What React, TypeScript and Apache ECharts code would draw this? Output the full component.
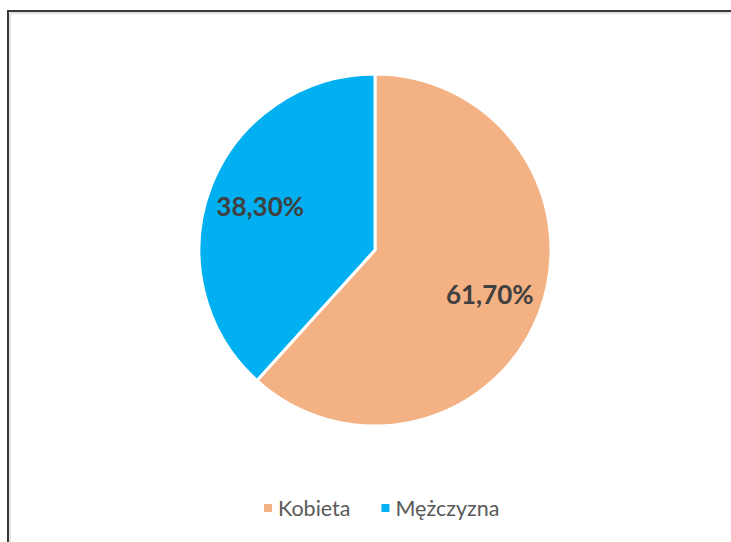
import React, { useEffect, useRef } from "react";
import * as echarts from "echarts";

const categories = ["Kobieta", "Mężczyzna"];
const values = [61.7, 38.3];
const colors = ["#F4B183", "#00B0F0"];

export default function App() {
  const ref = useRef<HTMLDivElement>(null);
  useEffect(() => {
    if (!ref.current) return;
    const chart = echarts.init(ref.current, undefined, { renderer: "svg" });
    const data = categories.map((c, i) => ({ name: c, value: values[i], itemStyle: { color: colors[i] } }));
    chart.setOption({
      animation: false,
      backgroundColor: "#ffffff",
      legend: {
        data: categories.map((c, i) => ({ name: c, itemStyle: { color: colors[i] } })),
        top: 492,
        left: 257,
        icon: "rect",
        itemWidth: 10,
        itemHeight: 10,
        itemGap: 29,
        textStyle: { fontFamily: "Lato", fontSize: 21.5, color: "#595959" },
        selectedMode: false,
      },
      graphic: [
        { type: "line", shape: { x1: 10, y1: 13, x2: 10, y2: 542 }, style: { stroke: "#e3e3e3", lineWidth: 2 }, silent: true },
        { type: "line", shape: { x1: 10, y1: 13, x2: 731, y2: 13 }, style: { stroke: "#e3e3e3", lineWidth: 2 }, silent: true },
        { type: "line", shape: { x1: 8, y1: 11, x2: 8, y2: 542 }, style: { stroke: "#3a3a3a", lineWidth: 2 }, silent: true },
        { type: "line", shape: { x1: 7, y1: 11, x2: 731, y2: 11 }, style: { stroke: "#3a3a3a", lineWidth: 2 }, silent: true },
      ],
      series: [
        {
          type: "pie",
          center: [375, 250],
          radius: [0, 176],
          startAngle: 90,
          clockwise: true,
          data,
          label: { show: false },
          labelLine: { show: false },
          itemStyle: { borderColor: "#ffffff", borderWidth: 3 },
          emphasis: { disabled: true },
          silent: true,
        },
        {
          type: "pie",
          center: [375, 250],
          radius: [0, 240],
          startAngle: 90,
          clockwise: true,
          data: categories.map((c, i) => ({ name: c, value: values[i] })),
          itemStyle: { color: "rgba(0,0,0,0)" },
          label: {
            show: true,
            position: "inside",
            formatter: (p: any) => p.value.toFixed(2).replace(".", ",") + "%",
            fontFamily: "Lato",
            fontWeight: "bold",
            fontSize: 26,
            color: "#404040",
          },
          labelLine: { show: false },
          emphasis: { disabled: true },
          silent: true,
        },
      ],
    });
    return () => chart.dispose();
  }, []);
  return <div ref={ref} style={{ position: "fixed", left: 0, top: 0, width: 731, height: 542 }} />;
}
